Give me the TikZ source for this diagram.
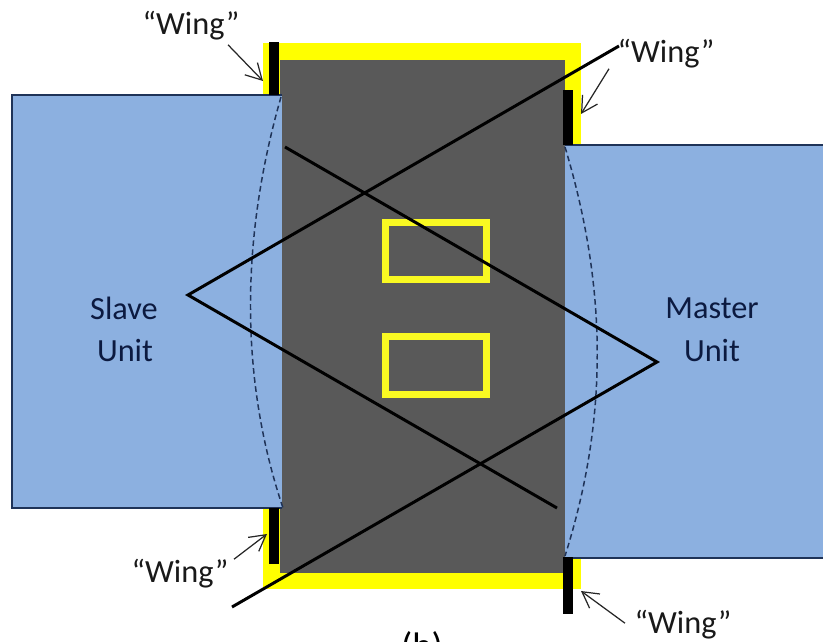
\documentclass[tikz,border=0pt]{standalone}
\usepackage{fontspec}
\setmainfont{Carlito}
\usepackage{xcolor}
\usetikzlibrary{arrows.meta}
\definecolor{unitblue}{HTML}{8CB0E0}
\definecolor{bodygray}{HTML}{595959}
\definecolor{padyellow}{HTML}{FFFF00}
\definecolor{padline}{HTML}{F9F922}
\definecolor{edgenavy}{HTML}{1F3358}
\definecolor{textnavy}{HTML}{0C1A40}
\tikzset{
  unitlabel/.style={text=textnavy, inner sep=0pt, font=\fontsize{18.4}{20}\selectfont},
  winglabel/.style={text=black!90, inner sep=0pt, font=\fontsize{18.4}{20}\selectfont},
  wingarrow/.style={draw=black!85, line width=0.7pt, -{Straight Barb[length=9pt,width=10pt]}},
  padrect/.style={draw=padline, line width=4pt},
  wingbar/.style={fill=black},
  sweep/.style={draw=black, line width=1.7pt, line join=miter},
  edgedash/.style={draw=edgenavy, line width=0.85pt, dash pattern=on 3.2pt off 2pt}
}
\begin{document}
\begin{tikzpicture}[x=0.02cm, y=-0.02cm]
  \useasboundingbox (0,0) rectangle (823,642);
  \clip (0,0) rectangle (823,642);
  \fill[white] (0,0) rectangle (823,642);

  % Package body
  \fill[padyellow] (263,43) rectangle (581,589);
  \fill[bodygray] (280,60) rectangle (565,573);

  % Slave and Master
  \fill[unitblue] (12,95) rectangle (282,508);
  \fill[unitblue] (565,145) rectangle (823,558);
  \draw[edgenavy, line width=0.8pt] (282,95) -- (12,95) -- (12,508) -- (282,508);
  \draw[edgenavy, line width=0.8pt] (565,145) -- (823,145);
  \draw[edgenavy, line width=0.8pt] (565,558) -- (823,558);
  \node[unitlabel] (slave) at (124,308) {Slave};
  \node[unitlabel] (slaveunit) at (125,350) {Unit};
  \node[unitlabel] (master) at (712,308) {Master};
  \node[unitlabel] (masterunit) at (712,350) {Unit};

  % Pads
  \node[padrect, minimum width=101*0.5669pt, minimum height=57*0.5669pt, inner sep=0pt] (padA) at (436,251) {};
  \node[padrect, minimum width=101*0.5669pt, minimum height=58*0.5669pt, inner sep=0pt] (padB) at (436,365.5) {};

  % Dashed edges
  \coordinate (slaveT) at (281,97);
  \coordinate (slaveB) at (283,508);
  \coordinate (masterT) at (565,147);
  \coordinate (masterB) at (565,556);
  \draw[edgedash] (slaveT) .. controls (240,240) and (240,380) .. (slaveB);
  \draw[edgedash] (masterT) .. controls (608,290) and (608,420) .. (masterB);

  % Crossing lines
  \coordinate (lineAs) at (232,607);
  \coordinate (lineAm) at (657,362);
  \coordinate (lineAe) at (285,147);
  \coordinate (lineBs) at (619,46);
  \coordinate (lineBm) at (188,295);
  \coordinate (lineBe) at (557,508);
  \draw[sweep] (lineAs) -- (lineAm) -- (lineAe);
  \draw[sweep] (lineBs) -- (lineBm) -- (lineBe);

  % Wings
  \fill[wingbar] (269,42) rectangle (279,95);
  \fill[wingbar] (563,90) rectangle (573,145);
  \fill[wingbar] (269,508) rectangle (279,564);
  \fill[wingbar] (563,557) rectangle (573,614);
  \coordinate (tipA) at (263,81);
  \coordinate (tipB) at (581,114);
  \coordinate (tipC) at (267,534);
  \coordinate (tipD) at (581,591);
  \node[winglabel] (wingA) at (191,26) {“Wing”};
  \node[winglabel] (wingB) at (666,54) {“Wing”};
  \node[winglabel] (wingC) at (180,574) {“Wing”};
  \node[winglabel] (wingD) at (683,625) {“Wing”};
  \draw[wingarrow] (wingA.south) ++(37,4) -- (tipA);
  \draw[wingarrow] (wingB.south) ++(-57,0) -- (tipB);
  \draw[wingarrow] (wingC.north) ++(54,0) -- (tipC);
  \draw[wingarrow] (wingD.north) ++(-58,13) -- (tipD);

  \node[winglabel, text=black, font=\fontsize{21}{23}\selectfont] (caption) at (422,648) {(b)};
\end{tikzpicture}
\end{document}
